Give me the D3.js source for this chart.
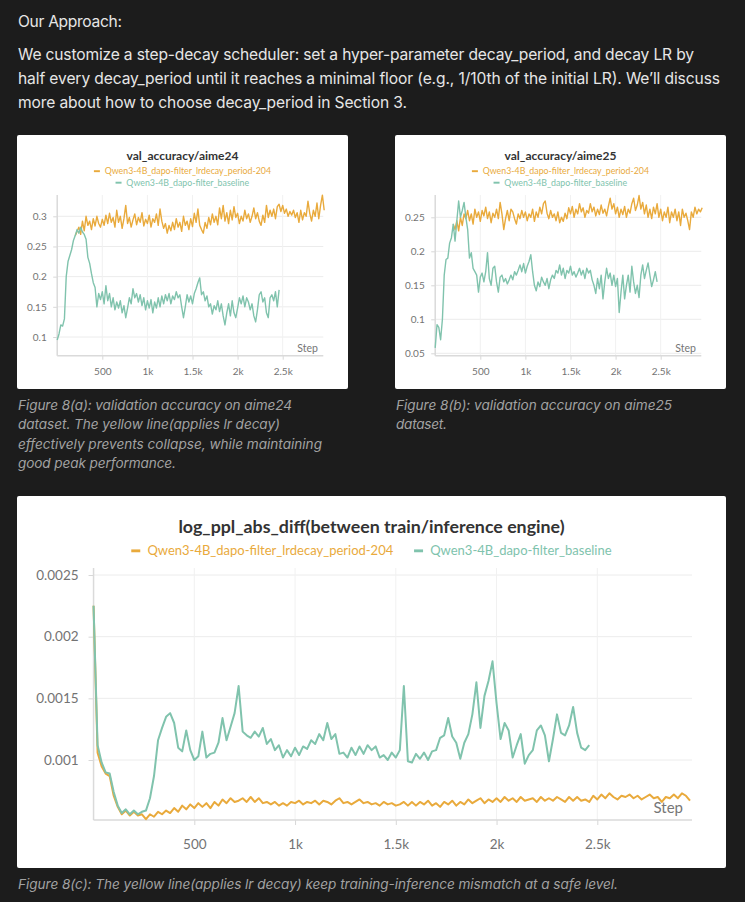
<!DOCTYPE html>
<html>
<head>
<meta charset="utf-8">
<script src="https://cdn.jsdelivr.net/npm/d3@7"></script>
<style>
body { margin: 0; background: #1c1c1c; }
svg { display: block; }
</style>
</head>
<body>
<script>
// every run logs one value each 20 steps
var stepEvery = 20;

var seriesNames = ["Qwen3-4B_dapo-filter_lrdecay_period-204", "Qwen3-4B_dapo-filter_baseline"];
var seriesColors = ["#e9aa3c", "#80c3ad"];

var xTicks = [500, 1000, 1500, 2000, 2500];
var xTickLabels = ["500", "1k", "1.5k", "2k", "2.5k"];

var yTicksA = [0.1, 0.15, 0.2, 0.25, 0.3];
var yLabelsA = ["0.1", "0.15", "0.2", "0.25", "0.3"];
var yTicksB = [0.05, 0.1, 0.15, 0.2, 0.25];
var yLabelsB = ["0.05", "0.1", "0.15", "0.2", "0.25"];
var yTicksC = [0.001, 0.0015, 0.002, 0.0025];
var yLabelsC = ["0.001", "0.0015", "0.002", "0.0025"];

// val_accuracy/aime24, baseline from step 0
var aime24Baseline = [
  .095,.105,.12,.118,.13,.2,.225,.235,.245,.26,
  .268,.278,.272,.282,.274,.27,.262,.232,.222,.205,
  .19,.182,.15,.172,.162,.175,.155,.185,.16,.172,
  .15,.165,.145,.158,.148,.16,.14,.152,.132,.148,
  .165,.155,.18,.165,.172,.158,.17,.152,.165,.145,
  .16,.148,.162,.14,.158,.148,.165,.15,.168,.155,
  .17,.16,.172,.155,.168,.162,.175,.165,.17,.15,
  .132,.15,.17,.158,.168,.155,.172,.18,.19,.198,
  .17,.175,.16,.168,.15,.155,.138,.152,.145,.16,
  .142,.155,.135,.12,.14,.155,.135,.16,.14,.132,
  .148,.165,.155,.168,.15,.165,.158,.145,.155,.135,
  .125,.145,.17,.175,.158,.165,.14,.132,.165,.17,
  .16,.175,.15,.178
];
// lr decay run, from step 200
var aime24Decay = [
  .268,.275,.282,.27,.292,.276,.3,.285,.292,.278,
  .296,.284,.3,.288,.282,.295,.285,.302,.288,.305,
  .29,.298,.282,.31,.29,.3,.28,.296,.318,.288,
  .298,.282,.294,.304,.286,.298,.29,.306,.284,.295,
  .288,.302,.282,.296,.29,.304,.285,.312,.292,.28,
  .288,.272,.285,.276,.29,.278,.296,.282,.29,.275,
  .3,.285,.292,.278,.296,.283,.305,.29,.312,.285,
  .278,.272,.29,.28,.298,.286,.304,.29,.3,.286,
  .314,.296,.318,.292,.306,.288,.31,.294,.316,.298,
  .305,.288,.3,.292,.31,.296,.304,.29,.3,.314,
  .296,.306,.292,.285,.302,.29,.318,.298,.31,.3,
  .312,.296,.316,.32,.308,.318,.305,.312,.3,.308,
  .302,.31,.298,.306,.29,.31,.294,.306,.3,.325,
  .305,.292,.31,.3,.322,.296,.318,.335,.31
];

// val_accuracy/aime25
var aime25Baseline = [
  .058,.092,.088,.07,.1,.165,.188,.19,.212,.22,
  .24,.215,.245,.274,.25,.26,.272,.25,.232,.19,
  .198,.175,.17,.165,.14,.162,.168,.155,.17,.198,
  .16,.15,.175,.178,.155,.14,.162,.165,.155,.16,
  .152,.158,.165,.158,.17,.165,.172,.18,.17,.182,
  .168,.178,.185,.195,.17,.15,.142,.155,.148,.162,
  .155,.15,.16,.145,.158,.165,.16,.172,.168,.18,
  .165,.175,.16,.172,.168,.178,.165,.17,.162,.168,
  .175,.165,.172,.16,.175,.168,.172,.158,.15,.138,
  .16,.145,.165,.13,.155,.175,.16,.168,.15,.165,
  .148,.16,.11,.14,.165,.13,.15,.165,.14,.178,
  .155,.138,.15,.132,.165,.18,.16,.172,.183,.165,
  .148,.158,.17,.155
];
var aime25Decay = [
  .24,.232,.245,.23,.25,.238,.255,.248,.26,.245,
  .255,.24,.262,.25,.258,.244,.26,.252,.265,.248,
  .258,.242,.256,.25,.262,.248,.272,.255,.232,.248,
  .26,.245,.262,.258,.248,.24,.255,.248,.26,.25,
  .258,.245,.255,.25,.262,.244,.258,.25,.265,.255,
  .27,.274,.256,.248,.26,.25,.255,.245,.258,.242,
  .25,.244,.256,.248,.264,.255,.266,.25,.262,.255,
  .27,.258,.264,.25,.26,.256,.27,.258,.265,.252,
  .262,.254,.268,.256,.262,.252,.266,.278,.262,.27,
  .255,.265,.25,.262,.254,.266,.25,.262,.256,.27,
  .278,.26,.268,.282,.262,.272,.255,.268,.25,.262,
  .248,.265,.255,.27,.25,.262,.245,.258,.25,.265,
  .242,.258,.25,.262,.245,.258,.238,.262,.25,.256,
  .245,.232,.258,.25,.265,.255,.262,.258,.264
];

// log_ppl_abs_diff, both from step 0
var pplBaseline = [
  .00225,.00112,.00098,.0009,.00089,.00074,.00063,.00057,.0006,.00056,
  .00059,.00056,.00058,.00059,.00069,.00087,.00116,.00126,.00135,.00138,
  .0013,.0011,.00107,.00124,.00108,.001,.00103,.00123,.00102,.00105,
  .00106,.00114,.00134,.00116,.00127,.00138,.0016,.00123,.0012,.00118,
  .00123,.00119,.00126,.00113,.00117,.00108,.00112,.00102,.00108,.00103,
  .0011,.00104,.00111,.00109,.00116,.00113,.00121,.00116,.0013,.00117,
  .00121,.00105,.00106,.00102,.0011,.00104,.00111,.00105,.00112,.00108,
  .00111,.00102,.00104,.001,.00106,.00102,.00108,.0016,.00099,.00098,
  .00105,.00101,.00106,.001,.00107,.00108,.00118,.0012,.00134,.00119,
  .00114,.00101,.00114,.00121,.00137,.00163,.00126,.00152,.00164,.0018,
  .00146,.00117,.0013,.00124,.00102,.00112,.00121,.00097,.00104,.00108,
  .00124,.00128,.0012,.00099,.00117,.00137,.00122,.0012,.00128,.00143,
  .00122,.0011,.00108,.00112
];
var pplDecay = [
  .00225,.00106,.00095,.00089,.00087,.00071,.00062,.00056,.00059,.00055,
  .00058,.00055,.00056,.00052,.00056,.00054,.00058,.00056,.00059,.00057,
  .00061,.00058,.00063,.0006,.00064,.00061,.00065,.00062,.00065,.00061,
  .00066,.00063,.00068,.00065,.00069,.00066,.00067,.00069,.00066,.0007,
  .00066,.00069,.00065,.00066,.00064,.00066,.00063,.00065,.00063,.00066,
  .00065,.00067,.00064,.00066,.00065,.00067,.00064,.00067,.00066,.00064,
  .00067,.00069,.00065,.00066,.00064,.00066,.00068,.00065,.00066,.00064,
  .00065,.00063,.00066,.00064,.00065,.00063,.00064,.00066,.00063,.00066,
  .00063,.00066,.00064,.00067,.00063,.00065,.00062,.00066,.00064,.00067,
  .00063,.00066,.00064,.00068,.00065,.00067,.00069,.00065,.00068,.00066,
  .00069,.00066,.0007,.00067,.00069,.00066,.0007,.00067,.00068,.00069,
  .00066,.0007,.00067,.00069,.00067,.0007,.00068,.00066,.0007,.00067,
  .0007,.00067,.00068,.00066,.00071,.00068,.00072,.00069,.00073,.0007,
  .00068,.00071,.0007,.00072,.00069,.00071,.00068,.0007,.00072,.00069,
  .0007,.00066,.0007,.00069,.00072,.00069,.00073,.00071,.00067
];

var introTitle = "Our Approach:";
var introLines = [
  "We customize a step-decay scheduler: set a hyper-parameter decay_period, and decay LR by",
  "half every decay_period until it reaches a minimal floor (e.g., 1/10th of the initial LR). We\u2019ll discuss",
  "more about how to choose decay_period in Section 3."
];
var captionA = [
  "Figure 8(a): validation accuracy on aime24",
  "dataset. The yellow line(applies lr decay)",
  "effectively prevents collapse, while maintaining",
  "good peak performance."
];
var captionB = ["Figure 8(b): validation accuracy on aime25", "dataset."];
var captionC = ["Figure 8(c): The yellow line(applies lr decay) keep training-inference mismatch at a safe level."];

var bodyFont = "Inter, 'Liberation Sans', sans-serif";
var chartFont = "Lato, 'Open Sans', sans-serif";

var svg = d3.select("body").append("svg")
    .attr("width", 745)
    .attr("height", 902);

svg.append("rect").attr("width", 745).attr("height", 902).attr("fill", "#1c1c1c");

// text blocks, each line stretched to the width it has in the page
function textBlock(lines, widths, x, y0, lh, size, color, italic) {
    svg.append("g").selectAll("text")
        .data(lines)
        .enter().append("text")
        .attr("x", x)
        .attr("y", function (d, i) { return y0 + i * lh })
        .attr("textLength", function (d, i) { return widths[i] })
        .attr("lengthAdjust", "spacing")
        .attr("fill", color)
        .style("font-family", bodyFont)
        .style("font-size", size + "px")
        .style("font-style", italic ? "italic" : "normal")
        .text(function (d) { return d });
}

textBlock([introTitle], [104], 18, 27, 0, 15.6, "#e6e6e6", false);
textBlock(introLines, [676, 702, 389], 18, 60, 24, 15.6, "#e6e6e6", false);
textBlock(captionA, [274, 262, 304, 158], 18, 410, 19.3, 13.6, "#a2a2a2", true);
textBlock(captionB, [276, 51], 396, 410, 19.3, 13.6, "#a2a2a2", true);
textBlock(captionC, [600], 18, 889, 0, 13.6, "#a2a2a2", true);

function drawChart(c) {
    var g = svg.append("g");

    g.append("rect")
        .attr("x", c.box[0]).attr("y", c.box[1])
        .attr("width", c.box[2]).attr("height", c.box[3])
        .attr("rx", 2)
        .attr("fill", "#ffffff");

    var x = d3.scaleLinear().domain([500, 2500]).range(c.xr);
    var y = d3.scaleLinear().domain(c.yd).range(c.yr);
    var left = x(0);

    // grid
    g.append("g").selectAll("line")
        .data(c.yTicks)
        .enter().append("line")
        .attr("x1", left).attr("x2", c.right)
        .attr("y1", function (d) { return y(d) })
        .attr("y2", function (d) { return y(d) })
        .attr("stroke", "#ececec");
    g.append("g").selectAll("line")
        .data(xTicks)
        .enter().append("line")
        .attr("x1", function (d) { return x(d) })
        .attr("x2", function (d) { return x(d) })
        .attr("y1", c.top).attr("y2", c.bottom)
        .attr("stroke", "#f1f1f1");

    var yAxis = d3.axisLeft(y)
        .tickValues(c.yTicks)
        .tickFormat(function (d, i) { return c.yLabels[i] })
        .tickSize(c.tick)
        .tickPadding(c.pad);
    var xAxis = d3.axisBottom(x)
        .tickValues(xTicks)
        .tickFormat(function (d, i) { return xTickLabels[i] })
        .tickSize(c.tick)
        .tickPadding(c.xpad);

    var ya = g.append("g").attr("transform", "translate(" + left + ",0)").call(yAxis);
    var xa = g.append("g").attr("transform", "translate(0," + c.bottom + ")").call(xAxis);
    [ya, xa].forEach(function (a) {
        a.select(".domain").remove();
        a.selectAll("line").attr("stroke", "#d8d8d8");
        a.selectAll("text")
            .attr("fill", "#737373")
            .style("font-family", chartFont)
            .style("font-size", c.fs + "px");
    });

    g.append("line")
        .attr("x1", left).attr("x2", left)
        .attr("y1", c.top).attr("y2", c.bottom)
        .attr("stroke", "#dadada").attr("stroke-width", 1.5);
    g.append("line")
        .attr("x1", left).attr("x2", c.right)
        .attr("y1", c.bottom).attr("y2", c.bottom)
        .attr("stroke", "#dadada").attr("stroke-width", 1.5);

    function lineFrom(start) {
        return d3.line()
            .x(function (d, i) { return x(start + i * stepEvery) })
            .y(function (d) { return y(d) });
    }

    g.append("path")
        .datum(c.decay)
        .attr("d", lineFrom(c.decayStart))
        .attr("fill", "none")
        .attr("stroke", seriesColors[0])
        .attr("stroke-width", c.lw)
        .attr("stroke-linejoin", "round");
    g.append("path")
        .datum(c.base)
        .attr("d", lineFrom(0))
        .attr("fill", "none")
        .attr("stroke", seriesColors[1])
        .attr("stroke-width", c.lw)
        .attr("stroke-linejoin", "round");

    g.append("text")
        .attr("x", c.stepX).attr("y", c.stepY)
        .attr("text-anchor", "end")
        .attr("fill", "#767676")
        .style("font-family", chartFont)
        .style("font-size", c.stepFs + "px")
        .text("Step");

    var cx = c.box[0] + c.box[2] / 2;
    g.append("text")
        .attr("x", cx).attr("y", c.titleY)
        .attr("text-anchor", "middle")
        .attr("fill", "#333333")
        .style("font-family", chartFont)
        .style("font-weight", "bold")
        .style("font-size", c.titleFs + "px")
        .text(c.title);

    // legend rows, each centred on the panel
    c.legendRows.forEach(function (row, ri) {
        var lg = g.append("g");
        var xo = 0;
        row.forEach(function (k) {
            lg.append("line")
                .attr("x1", xo).attr("x2", xo + c.dash)
                .attr("y1", -c.legendFs * 0.32).attr("y2", -c.legendFs * 0.32)
                .attr("stroke", seriesColors[k])
                .attr("stroke-width", c.legendFs * 0.22);
            var t = lg.append("text")
                .attr("x", xo + c.dash + c.legendFs * 0.55)
                .attr("y", 0)
                .attr("fill", seriesColors[k])
                .style("font-family", chartFont)
                .style("font-size", c.legendFs + "px")
                .text(seriesNames[k]);
            xo += c.dash + c.legendFs * 0.55 + t.node().getComputedTextLength() + c.legendFs * 1.6;
        });
        var w = lg.node().getBBox().width;
        lg.attr("transform", "translate(" + (cx - w / 2) + "," + c.legendY[ri] + ")");
    });
}

drawChart({
    box: [17, 135, 331, 254],
    xr: [102.3, 282.7], yd: [0.1, 0.3], yr: [337, 216.3],
    right: 323.3, top: 195, bottom: 355.7,
    tick: 4, pad: 6.5, xpad: 8.5, fs: 10,
    yTicks: yTicksA, yLabels: yLabelsA,
    base: aime24Baseline, decay: aime24Decay, decayStart: 200, lw: 1.4,
    stepX: 318, stepY: 352, stepFs: 10.5,
    title: "val_accuracy/aime24", titleY: 159.5, titleFs: 12,
    legendRows: [[0], [1]], legendY: [174, 185.5], legendFs: 8.8, dash: 6
});

drawChart({
    box: [395, 135, 331, 254],
    xr: [480.3, 660.7], yd: [0.05, 0.25], yr: [353.3, 217.3],
    right: 701.3, top: 195, bottom: 355.7,
    tick: 4, pad: 6.5, xpad: 8.5, fs: 10,
    yTicks: yTicksB, yLabels: yLabelsB,
    base: aime25Baseline, decay: aime25Decay, decayStart: 200, lw: 1.4,
    stepX: 696, stepY: 352, stepFs: 10.5,
    title: "val_accuracy/aime25", titleY: 159.5, titleFs: 12,
    legendRows: [[0], [1]], legendY: [174, 185.5], legendFs: 8.8, dash: 6
});

drawChart({
    box: [17, 496, 709, 372],
    xr: [194.3, 597.3], yd: [0.001, 0.0025], yr: [760, 575],
    right: 692, top: 568, bottom: 820,
    tick: 5, pad: 10, xpad: 14, fs: 13.5,
    yTicks: yTicksC, yLabels: yLabelsC,
    base: pplBaseline, decay: pplDecay, decayStart: 0, lw: 2,
    stepX: 683, stepY: 813, stepFs: 15,
    title: "log_ppl_abs_diff(between train/inference engine)", titleY: 533, titleFs: 17.8,
    legendRows: [[0, 1]], legendY: [555], legendFs: 13, dash: 9
});
</script>
</body>
</html>
